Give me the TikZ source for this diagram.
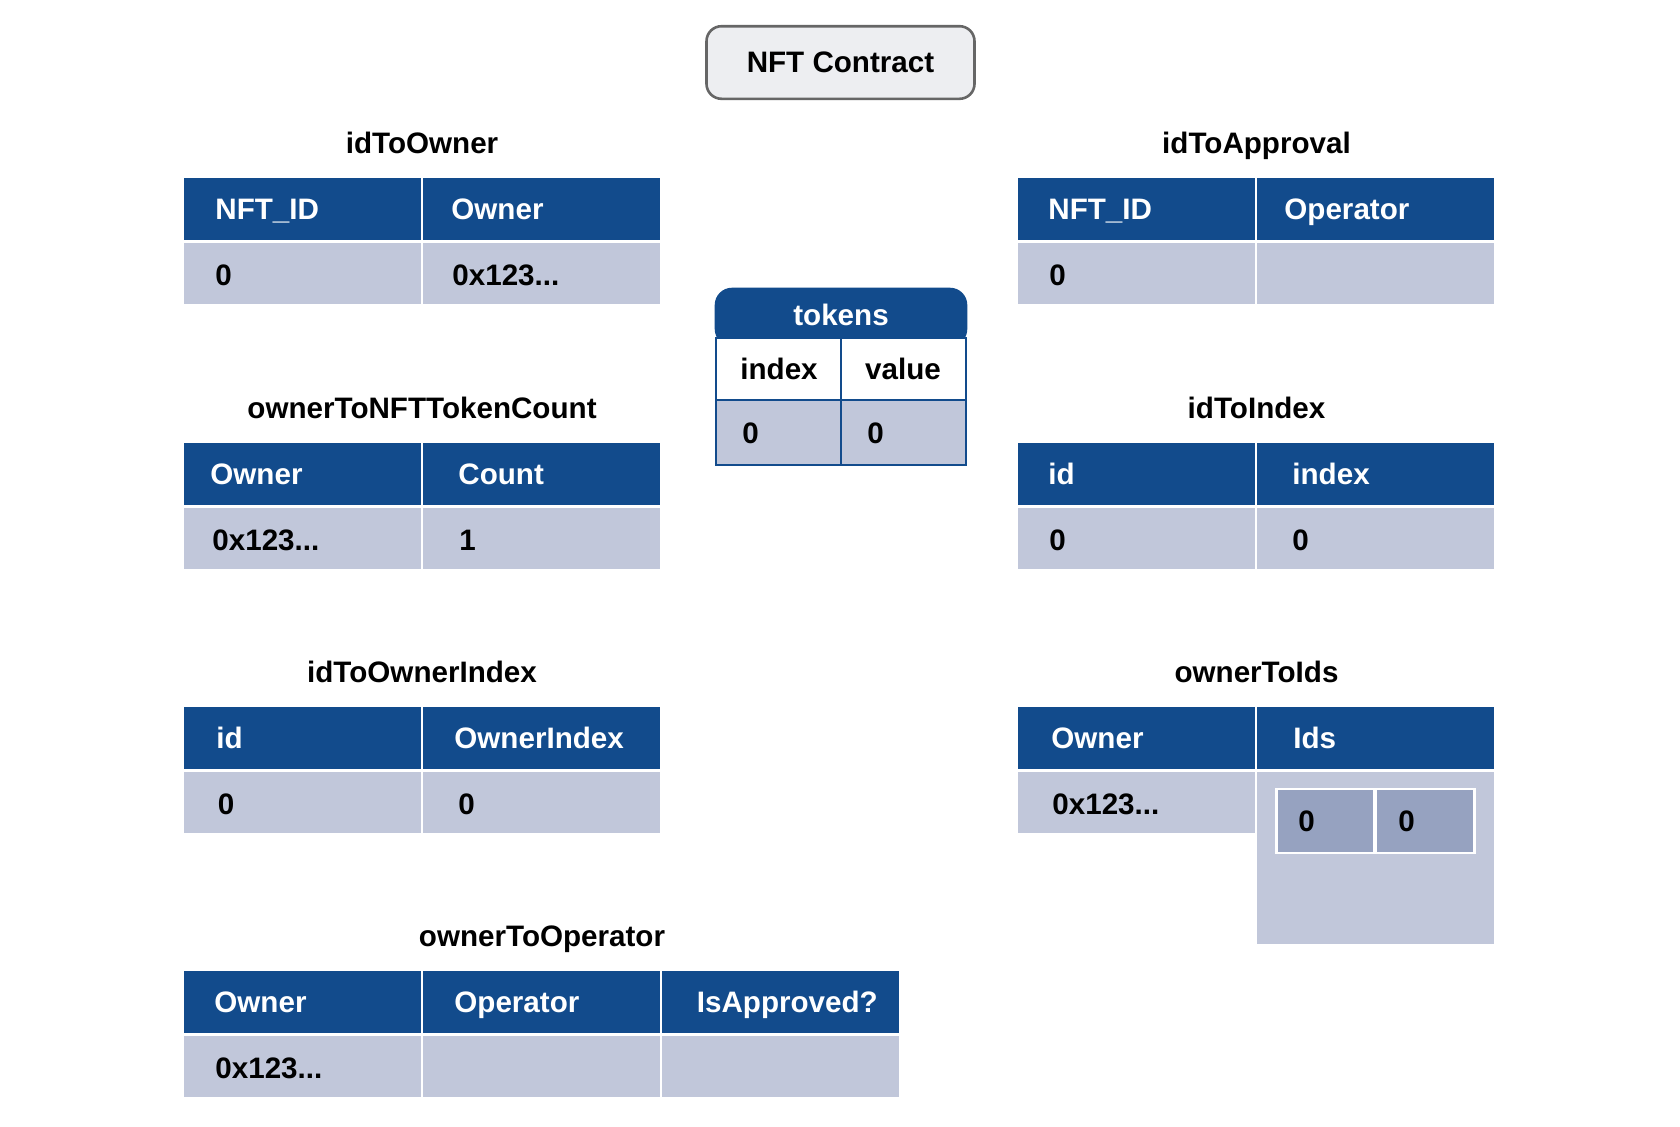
\documentclass[tikz,border=0pt]{standalone}
\usepackage{fontspec}
\setmainfont{Liberation Sans}
\definecolor{hdrblue}{HTML}{124B8C}
\definecolor{rowgray}{HTML}{C1C7DA}
\definecolor{innergray}{HTML}{96A2C0}
\definecolor{boxgray}{HTML}{666666}
\definecolor{boxfill}{HTML}{EDEEF1}
\tikzset{
  cellbase/.style={inner sep=0pt, outer sep=0pt, anchor=north west, draw=none},
  hdr/.style={cellbase, fill=hdrblue, minimum width=118.5pt, minimum height=31pt},
  valc/.style={cellbase, fill=rowgray, minimum width=118.5pt, minimum height=30.5pt},
  txtfont/.style={font=\bfseries\fontsize{14.8}{17}\selectfont, inner sep=0pt},
  ht/.style={txtfont, text=white, anchor=base west},
  vt/.style={txtfont, text=black, anchor=base west},
  ttl/.style={txtfont, text=black, anchor=base},
  tokcell/.style={cellbase, draw=hdrblue, line width=1.3pt, minimum width=62.5pt},
}
\begin{document}
\begin{tikzpicture}[x=0.5pt,y=-0.5pt]
\useasboundingbox (0,0) rectangle (1680,1126);
\fill[white] (0,0) rectangle (1680,1126);

% NFT Contract
\node[draw=boxgray, fill=boxfill, line width=1.3pt, rounded corners=7.5pt,
      minimum width=134pt, minimum height=36.3pt, txtfont] (contract) at (840.5,62.5) {NFT Contract};

% ---------- idToOwner ----------
\node[ttl] (tIdToOwner) at (422,153) {idToOwner};
\node[hdr] (ioh1) at (184,178) {};
\node[hdr] (ioh2) at (423,178) {};
\node[valc] (iov1) at (184,243) {};
\node[valc] (iov2) at (423,243) {};
\node[ht] (ioht1) at (215,219.5) {NFT\_ID};
\node[ht] (ioht2) at (451,219.5) {Owner};
\node[vt] (iovt1) at (215,285) {0};
\node[vt] (iovt2) at (452,285) {0x123...};

% ---------- idToApproval ----------
\node[ttl] (tIdToApproval) at (1256.5,153) {idToApproval};
\node[hdr] (iah1) at (1018,178) {};
\node[hdr] (iah2) at (1257,178) {};
\node[valc] (iav1) at (1018,243) {};
\node[valc] (iav2) at (1257,243) {};
\node[ht] (iaht1) at (1048,219.5) {NFT\_ID};
\node[ht] (iaht2) at (1284,219.5) {Operator};
\node[vt] (iavt1) at (1049,285) {0};

% ---------- ownerToNFTTokenCount ----------
\node[ttl] (tCount) at (422,418) {ownerToNFTTokenCount};
\node[hdr] (och1) at (184,443) {};
\node[hdr] (och2) at (423,443) {};
\node[valc] (ocv1) at (184,508) {};
\node[valc] (ocv2) at (423,508) {};
\node[ht] (ocht1) at (210,484.5) {Owner};
\node[ht] (ocht2) at (458,484.5) {Count};
\node[vt] (ocvt1) at (212,550) {0x123...};
\node[vt] (ocvt2) at (459,550) {1};

% ---------- idToIndex ----------
\node[ttl] (tIdToIndex) at (1256.5,418) {idToIndex};
\node[hdr] (iih1) at (1018,443) {};
\node[hdr] (iih2) at (1257,443) {};
\node[valc] (iiv1) at (1018,508) {};
\node[valc] (iiv2) at (1257,508) {};
\node[ht] (iiht1) at (1048,484.5) {id};
\node[ht] (iiht2) at (1292,484.5) {index};
\node[vt] (iivt1) at (1049,550) {0};
\node[vt] (iivt2) at (1292,550) {0};

% ---------- tokens ----------
\node[cellbase, fill=hdrblue, draw=hdrblue, line width=1.3pt, rounded corners=8pt,
      minimum width=125pt, minimum height=28pt] (tokhead) at (716,289) {};
\node[tokcell, fill=white, minimum height=31pt] (tokw1) at (716,338) {};
\node[tokcell, fill=white, minimum height=31pt] (tokw2) at (841,338) {};
\node[tokcell, fill=rowgray, minimum height=32.5pt] (tokg1) at (716,400) {};
\node[tokcell, fill=rowgray, minimum height=32.5pt] (tokg2) at (841,400) {};
\node[txtfont, text=white, anchor=base] (toktitle) at (841,325) {tokens};
\node[txtfont, text=black, anchor=base] (tokidx) at (779,379) {index};
\node[txtfont, text=black, anchor=base] (tokval) at (903,379) {value};
\node[vt] (tokv1) at (742,443) {0};
\node[vt] (tokv2) at (867,443) {0};

% ---------- idToOwnerIndex ----------
\node[ttl] (tOwnerIndex) at (422,682) {idToOwnerIndex};
\node[hdr] (oih1) at (184,707) {};
\node[hdr] (oih2) at (423,707) {};
\node[valc] (oiv1) at (184,772) {};
\node[valc] (oiv2) at (423,772) {};
\node[ht] (oiht1) at (216,748.5) {id};
\node[ht] (oiht2) at (454,748.5) {OwnerIndex};
\node[vt] (oivt1) at (217.5,814) {0};
\node[vt] (oivt2) at (458,814) {0};

% ---------- ownerToIds ----------
\node[ttl] (tOwnerToIds) at (1256.5,682) {ownerToIds};
\node[hdr] (idh1) at (1018,707) {};
\node[hdr] (idh2) at (1257,707) {};
\node[valc] (idv1) at (1018,772) {};
\node[valc, minimum height=86pt] (idv2) at (1257,772) {};
\node[cellbase, fill=white, minimum width=100.5pt, minimum height=33.3pt] (idbox) at (1275,787.7) {};
\node[cellbase, fill=innergray, minimum width=47.8pt, minimum height=30.7pt] (idin1) at (1277.7,790.3) {};
\node[cellbase, fill=innergray, minimum width=48.3pt, minimum height=30.7pt] (idin2) at (1376.7,790.3) {};
\node[ht] (idht1) at (1051,748.5) {Owner};
\node[ht] (idht2) at (1293,748.5) {Ids};
\node[vt] (idvt1) at (1052,814) {0x123...};
\node[vt] (idint1) at (1298,831.5) {0};
\node[vt] (idint2) at (1398,831.5) {0};

% ---------- ownerToOperator ----------
\node[ttl] (tOperator) at (542,946) {ownerToOperator};
\node[hdr] (oph1) at (184,971) {};
\node[hdr] (oph2) at (423,971) {};
\node[hdr] (oph3) at (662,971) {};
\node[valc] (opv1) at (184,1036) {};
\node[valc] (opv2) at (423,1036) {};
\node[valc] (opv3) at (662,1036) {};
\node[ht] (opht1) at (214,1012.5) {Owner};
\node[ht] (opht2) at (454,1012.5) {Operator};
\node[ht] (opht3) at (696.5,1012.5) {IsApproved?};
\node[vt] (opvt1) at (215,1078) {0x123...};
\end{tikzpicture}
\end{document}
